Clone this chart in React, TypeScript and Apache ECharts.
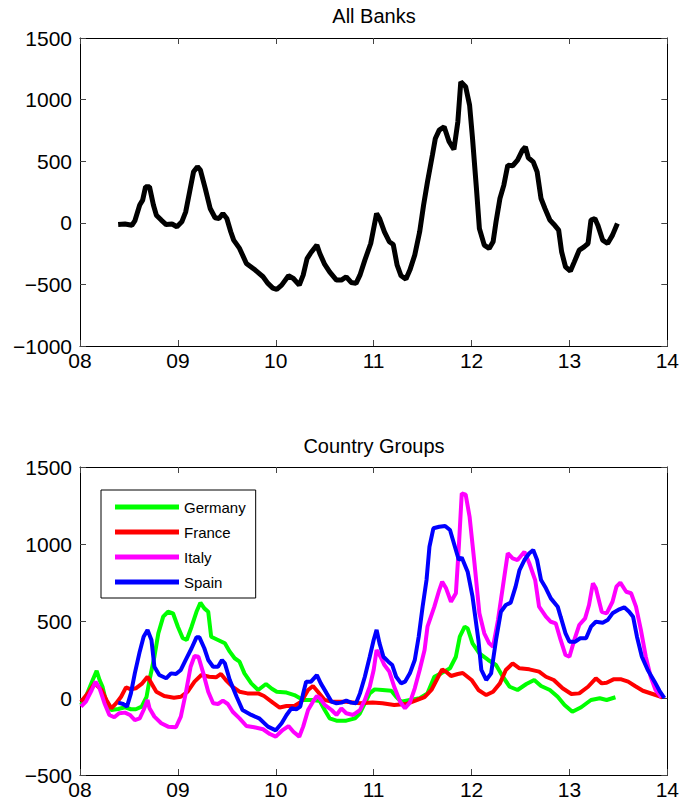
import React, { useEffect, useRef } from "react";
import * as echarts from "echarts";

// x values are years since 2000 (8 = 2008)
const xTicks = [8, 9, 10, 11, 12, 13, 14];

const allBanks: [number, number][] = [
  [8.39, -14], [8.46, -10], [8.53, -20], [8.56, 15], [8.61, 144], [8.64, 184], [8.67, 292], [8.71, 292],
  [8.75, 144], [8.78, 62], [8.83, 22], [8.88, -14], [8.94, -10], [8.99, -32], [9.04, 8], [9.08, 89],
  [9.12, 252], [9.16, 414], [9.2, 455], [9.23, 427], [9.28, 278], [9.33, 116], [9.38, 41], [9.42, 35],
  [9.46, 76], [9.5, 35], [9.54, -73], [9.57, -141], [9.63, -208], [9.7, -330], [9.79, -384], [9.87, -438],
  [9.92, -492], [9.97, -530], [10.01, -540], [10.06, -506], [10.13, -430], [10.18, -452], [10.24, -506],
  [10.28, -425], [10.32, -290], [10.36, -241], [10.42, -181], [10.45, -249], [10.5, -338], [10.55, -398],
  [10.62, -465], [10.67, -465], [10.72, -438], [10.77, -484], [10.82, -492], [10.86, -425], [10.91, -303],
  [10.97, -168], [11.0, -46], [11.03, 76], [11.06, 35], [11.11, -73], [11.16, -154], [11.2, -176],
  [11.24, -344], [11.28, -430], [11.33, -457], [11.37, -384], [11.42, -262], [11.47, -73], [11.51, 144],
  [11.55, 333], [11.6, 549], [11.63, 684], [11.67, 752], [11.72, 779], [11.77, 660], [11.82, 595],
  [11.86, 820], [11.89, 1144], [11.94, 1104], [11.98, 955], [12.01, 684], [12.05, 278], [12.08, -46],
  [12.13, -181], [12.18, -208], [12.22, -154], [12.25, 8], [12.29, 197], [12.33, 306], [12.37, 468],
  [12.42, 463], [12.47, 509], [12.52, 590], [12.55, 617], [12.58, 528], [12.63, 495], [12.67, 414],
  [12.71, 197], [12.75, 116], [12.8, 22], [12.84, -11], [12.89, -59], [12.92, -235], [12.96, -357],
  [13.01, -392], [13.05, -317], [13.1, -222], [13.15, -195], [13.19, -168], [13.22, 22], [13.26, 35],
  [13.29, -19], [13.34, -141], [13.39, -168], [13.44, -100], [13.49, -5],
];

const germany: [number, number][] = [
  [8.01, -45], [8.06, 8], [8.13, 117], [8.17, 177], [8.2, 117], [8.23, 73], [8.27, -34], [8.32, -78],
  [8.39, -71], [8.46, -60], [8.52, -73], [8.57, -73], [8.63, -56], [8.68, 8], [8.71, 117], [8.76, 268],
  [8.8, 420], [8.85, 528], [8.9, 560], [8.95, 550], [9.0, 463], [9.05, 388], [9.09, 377], [9.14, 463],
  [9.19, 560], [9.23, 619], [9.27, 582], [9.31, 560], [9.34, 398], [9.41, 377], [9.48, 355], [9.53, 301],
  [9.58, 258], [9.63, 236], [9.68, 160], [9.75, 95], [9.82, 52], [9.9, 91], [9.96, 60], [10.01, 41],
  [10.11, 35], [10.19, 19], [10.28, -13], [10.38, -13], [10.45, -20], [10.5, -78], [10.55, -132],
  [10.62, -147], [10.72, -147], [10.81, -132], [10.86, -99], [10.91, -34], [10.96, 30], [11.01, 56],
  [11.09, 52], [11.18, 47], [11.23, 8], [11.28, -24], [11.37, -13], [11.47, -2], [11.55, 30],
  [11.62, 138], [11.69, 160], [11.78, 193], [11.84, 268], [11.88, 398], [11.93, 463], [11.96, 452],
  [12.01, 355], [12.08, 290], [12.17, 247], [12.25, 214], [12.32, 138], [12.39, 73], [12.47, 52],
  [12.56, 91], [12.64, 117], [12.71, 78], [12.8, 52], [12.88, 8], [12.95, -45], [13.03, -89],
  [13.12, -60], [13.22, -13], [13.31, -2], [13.38, -13], [13.47, 5],
];

const france: [number, number][] = [
  [8.01, -24], [8.08, 30], [8.15, 95], [8.22, 52], [8.27, -13], [8.32, -67], [8.37, -34], [8.42, 8],
  [8.47, 69], [8.52, 56], [8.57, 63], [8.63, 91], [8.69, 138], [8.73, 95], [8.78, 41], [8.86, 13],
  [8.96, 2], [9.03, 8], [9.1, 41], [9.17, 106], [9.24, 149], [9.32, 138], [9.39, 134], [9.44, 156],
  [9.49, 117], [9.56, 73], [9.63, 41], [9.71, 30], [9.82, 30], [9.88, 13], [9.97, -30], [10.04, -62],
  [10.11, -52], [10.19, -52], [10.26, -24], [10.33, 52], [10.38, 78], [10.43, 41], [10.5, -13],
  [10.58, -24], [10.72, -24], [10.86, -34], [10.99, -30], [11.09, -34], [11.21, -45], [11.33, -39],
  [11.44, -13], [11.52, 5], [11.59, 52], [11.66, 138], [11.7, 186], [11.74, 171], [11.79, 143],
  [11.86, 156], [11.91, 162], [12.0, 117], [12.07, 52], [12.15, 19], [12.22, 41], [12.29, 95],
  [12.35, 182], [12.42, 225], [12.49, 193], [12.59, 186], [12.69, 171], [12.76, 138], [12.84, 117],
  [12.93, 63], [13.02, 26], [13.1, 30], [13.19, 73], [13.27, 128], [13.33, 95], [13.38, 99],
  [13.45, 121], [13.53, 121], [13.6, 106], [13.67, 78], [13.75, 47], [13.85, 26], [13.95, 5],
];

const italy: [number, number][] = [
  [8.01, -56], [8.06, -24], [8.12, 52], [8.16, 106], [8.2, 63], [8.25, -34], [8.3, -110], [8.35, -125],
  [8.4, -99], [8.46, -95], [8.51, -110], [8.56, -143], [8.61, -132], [8.65, -78], [8.69, -13],
  [8.71, -67], [8.76, -121], [8.83, -164], [8.9, -186], [8.98, -190], [9.03, -121], [9.08, 30],
  [9.13, 203], [9.17, 273], [9.21, 268], [9.26, 160], [9.31, 41], [9.36, -34], [9.41, -39], [9.46, -17],
  [9.51, -39], [9.56, -89], [9.63, -132], [9.7, -182], [9.78, -190], [9.87, -203], [9.94, -234],
  [10.0, -251], [10.07, -208], [10.13, -182], [10.18, -219], [10.24, -251], [10.28, -186], [10.33, -78],
  [10.38, -24], [10.42, 13], [10.45, -2], [10.5, -45], [10.57, -78], [10.62, -110], [10.67, -67],
  [10.72, -99], [10.79, -110], [10.86, -78], [10.91, -13], [10.96, 73], [11.0, 182], [11.03, 312],
  [11.07, 268], [11.11, 214], [11.16, 171], [11.21, 73], [11.27, -24], [11.32, -67], [11.37, -30],
  [11.42, 63], [11.47, 182], [11.52, 312], [11.55, 463], [11.62, 593], [11.67, 701], [11.7, 755],
  [11.74, 712], [11.79, 625], [11.84, 680], [11.87, 982], [11.9, 1329], [11.94, 1320], [11.98, 1177],
  [12.03, 875], [12.08, 550], [12.13, 420], [12.18, 355], [12.22, 333], [12.27, 506], [12.32, 723],
  [12.37, 940], [12.42, 907], [12.47, 896], [12.54, 950], [12.59, 875], [12.65, 766], [12.69, 593],
  [12.76, 528], [12.81, 495], [12.86, 485], [12.91, 377], [12.96, 279], [13.0, 268], [13.05, 377],
  [13.1, 474], [13.16, 517], [13.2, 604], [13.24, 745], [13.27, 712], [13.33, 560], [13.38, 550],
  [13.44, 625], [13.48, 723], [13.52, 749], [13.58, 690], [13.63, 680], [13.68, 593], [13.73, 442],
  [13.78, 268], [13.83, 138], [13.88, 52], [13.94, 5],
];

const spain: [number, number][] = [
  [8.39, -30], [8.44, -39], [8.48, -56], [8.52, 30], [8.56, 160], [8.61, 301], [8.65, 398], [8.69, 442],
  [8.73, 377], [8.76, 203], [8.81, 149], [8.88, 128], [8.93, 160], [8.98, 156], [9.03, 182], [9.08, 247],
  [9.14, 323], [9.19, 394], [9.22, 394], [9.27, 323], [9.31, 247], [9.36, 203], [9.41, 203], [9.45, 247],
  [9.48, 225], [9.53, 117], [9.6, 8], [9.66, -78], [9.75, -110], [9.83, -132], [9.92, -186], [10.0, -210],
  [10.06, -164], [10.11, -110], [10.16, -67], [10.21, -73], [10.25, -56], [10.28, 30], [10.31, 106],
  [10.36, 106], [10.42, 149], [10.46, 95], [10.52, 30], [10.57, -24], [10.62, -34], [10.67, -30],
  [10.72, -17], [10.77, -30], [10.82, -34], [10.86, 30], [10.91, 138], [10.96, 268], [11.0, 377],
  [11.03, 442], [11.06, 355], [11.1, 268], [11.15, 236], [11.19, 214], [11.23, 138], [11.28, 95],
  [11.32, 106], [11.37, 160], [11.42, 247], [11.46, 398], [11.5, 593], [11.54, 766], [11.57, 982],
  [11.61, 1102], [11.67, 1112], [11.73, 1117], [11.78, 1091], [11.83, 982], [11.87, 896], [11.9, 912],
  [11.96, 820], [12.01, 658], [12.07, 377], [12.1, 182], [12.15, 117], [12.2, 160], [12.25, 377],
  [12.3, 560], [12.35, 604], [12.4, 619], [12.45, 723], [12.49, 831], [12.54, 896], [12.59, 940],
  [12.63, 961], [12.67, 896], [12.71, 766], [12.76, 712], [12.81, 647], [12.88, 593], [12.91, 528],
  [12.96, 420], [13.0, 366], [13.06, 366], [13.11, 388], [13.17, 388], [13.22, 463], [13.27, 495],
  [13.34, 489], [13.39, 506], [13.44, 550], [13.51, 576], [13.56, 589], [13.61, 560], [13.65, 528],
  [13.69, 398], [13.74, 268], [13.8, 182], [13.87, 106], [13.92, 47], [13.97, 0],
];

const legendNames = ["Germany", "France", "Italy", "Spain"];
const colors = ["#00ff00", "#ff0000", "#ff00ff", "#0000ff"];
const FONT = "Liberation Sans, Arial, Helvetica, sans-serif";

export default function App() {
  const ref = useRef<HTMLDivElement>(null);
  useEffect(() => {
    document.body.style.margin = "0";
    const chart = echarts.init(ref.current!, undefined, { renderer: "svg" });
    const yFmt = (v: number) => (v < 0 ? "\u2212" + Math.abs(v) : String(v));
    const xFmt = (v: number) => String(v).padStart(2, "0");
    const grids = [
      { left: 80, top: 38, width: 588, height: 308 },
      { left: 80, top: 467, width: 588, height: 308 },
    ];
    const axisLine = { show: true, onZero: false, lineStyle: { color: "#000", width: 1 } };
    const tick = { show: true, inside: true, length: 6, lineStyle: { color: "#444" } };
    const xAxes: any[] = [];
    const yAxes: any[] = [];
    const yRanges = [
      { min: -1000, max: 1500, interval: 500 },
      { min: -500, max: 1500, interval: 500 },
    ];
    [0, 1].forEach((g) => {
      xAxes.push({
        type: "value", gridIndex: g, position: "bottom", min: xTicks[0], max: xTicks[xTicks.length - 1], interval: 1,
        axisLine, axisTick: tick, splitLine: { show: false },
        axisLabel: { formatter: xFmt, fontSize: 21, color: "#000", fontFamily: FONT, margin: 4 },
      });
      xAxes.push({
        type: "value", gridIndex: g, position: "top", min: xTicks[0], max: xTicks[xTicks.length - 1], interval: 1,
        axisLine, axisTick: tick, splitLine: { show: false }, axisLabel: { show: false },
      });
      yAxes.push({
        type: "value", gridIndex: g, position: "left", ...yRanges[g],
        axisLine, axisTick: tick, splitLine: { show: false },
        axisLabel: { formatter: yFmt, fontSize: 21, color: "#000", fontFamily: FONT, margin: 8 },
      });
      yAxes.push({
        type: "value", gridIndex: g, position: "right", ...yRanges[g],
        axisLine, axisTick: tick, splitLine: { show: false }, axisLabel: { show: false },
      });
    });
    const groups = [germany, france, italy, spain];
    chart.setOption({
      animation: false,
      backgroundColor: "#fff",
      grid: grids,
      xAxis: xAxes,
      yAxis: yAxes,
      legend: {
        data: legendNames,
        orient: "vertical",
        left: 101,
        top: 490,
        itemWidth: 64,
        itemHeight: 5,
        itemGap: 9,
        icon: "rect",
        padding: [9, 10, 8, 14],
        borderColor: "#000",
        borderWidth: 1,
        backgroundColor: "#fff",
        textStyle: { fontSize: 15, color: "#000", fontFamily: FONT, lineHeight: 16 },
      },
      graphic: [
        { type: "text", x: 374, y: 16, style: { text: "All Banks", align: "center", verticalAlign: "middle", font: `20px ${FONT}`, fill: "#000" } },
        { type: "text", x: 374, y: 446, style: { text: "Country Groups", align: "center", verticalAlign: "middle", font: `20px ${FONT}`, fill: "#000" } },
      ],
      series: [
        {
          type: "line", name: "All Banks", xAxisIndex: 0, yAxisIndex: 0, data: allBanks,
          showSymbol: false, lineStyle: { color: "#000", width: 5 }, itemStyle: { color: "#000" },
        },
        ...groups.map((d, i) => ({
          type: "line", name: legendNames[i], xAxisIndex: 2, yAxisIndex: 2, data: d,
          showSymbol: false, lineStyle: { color: colors[i], width: 4 }, itemStyle: { color: colors[i] },
        })),
      ],
    });
    return () => chart.dispose();
  }, []);
  return <div ref={ref} style={{ width: 682, height: 803 }} />;
}
